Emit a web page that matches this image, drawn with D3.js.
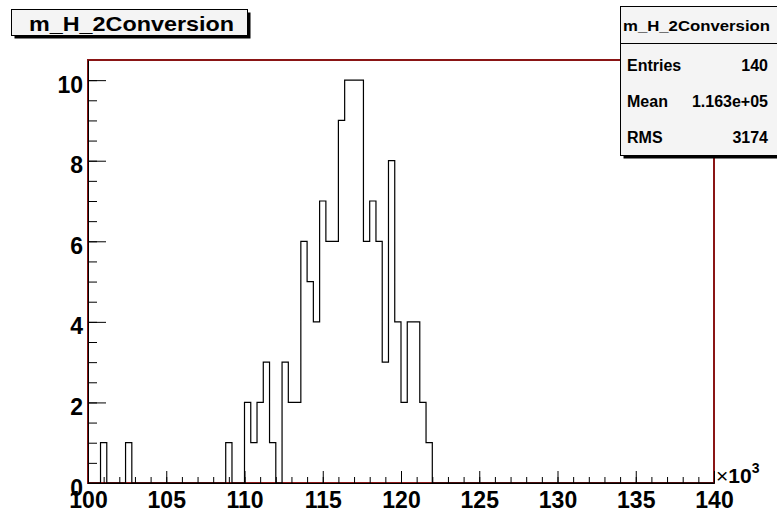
<!DOCTYPE html>
<html>
<head>
<meta charset="utf-8">
<script src="https://cdn.jsdelivr.net/npm/d3@7"></script>
<style>
  body { margin: 0; background: #fff; }
  text { font-family: "Liberation Sans", Arial, sans-serif; font-weight: bold; }
</style>
</head>
<body>
<svg id="hist" width="777" height="511"></svg>
<script>
// histogram m_H_2Conversion, 100 bins from 100e3 to 140e3 (x axis in units of 10^3)
const histName = "m_H_2Conversion";
const xMin = 100, xMax = 140, binWidth = 0.4;
const counts = [
  0, 0, 1, 0, 0, 0, 1, 0, 0, 0,
  0, 0, 0, 0, 0, 0, 0, 0, 0, 0,
  0, 0, 1, 0, 0, 2, 1, 2, 3, 1,
  0, 3, 2, 2, 6, 5, 4, 7, 6, 6,
  9, 10, 10, 10, 6, 7, 6, 3, 8, 4,
  2, 4, 4, 2, 1, 0, 0, 0, 0, 0,
  0, 0, 0, 0, 0, 0, 0, 0, 0, 0,
  0, 0, 0, 0, 0, 0, 0, 0, 0, 0,
  0, 0, 0, 0, 0, 0, 0, 0, 0, 0,
  0, 0, 0, 0, 0, 0, 0, 0, 0, 0
];
const xTicks = [100, 105, 110, 115, 120, 125, 130, 135, 140];
const yTicks = [0, 2, 4, 6, 8, 10];
const statLabels = ["Entries", "Mean", "RMS"];
const statValues = ["140", "1.163e+05", "3174"];

const svg = d3.select("#hist");

const frame = { left: 88, right: 714, top: 60, bottom: 483 };
const yMax = d3.max(counts) * 1.05;

const x = d3.scaleLinear().domain([xMin, xMax]).range([frame.left, frame.right]);
const y = d3.scaleLinear().domain([0, yMax]).range([frame.bottom, frame.top]);

// frame
svg.append("rect")
  .attr("x", frame.left).attr("y", frame.top)
  .attr("width", frame.right - frame.left)
  .attr("height", frame.bottom - frame.top)
  .attr("fill", "#fff")
  .attr("stroke", "#8a1515")
  .attr("stroke-width", 2);

// step outline of the histogram
const steps = [];
counts.forEach((c, i) => {
  steps.push([xMin + i * binWidth, c]);
  steps.push([xMin + (i + 1) * binWidth, c]);
});

svg.append("path")
  .datum(steps)
  .attr("fill", "none")
  .attr("stroke", "#000")
  .attr("stroke-width", 1.2)
  .attr("d", d3.line().x(d => x(d[0])).y(d => y(d[1])));

// x axis: minor ticks every 1, majors every 5
const xAxisG = svg.append("g").attr("transform", `translate(0,${frame.bottom})`);
xAxisG.append("g")
  .call(d3.axisBottom(x).tickValues(d3.range(xMin, xMax + 1, 1)).tickSizeInner(-6).tickSizeOuter(0).tickFormat(""))
  .call(g => g.select(".domain").remove());
xAxisG.append("g")
  .call(d3.axisBottom(x).tickValues(xTicks).tickSizeInner(-12).tickSizeOuter(0).tickPadding(9).tickFormat(d3.format("d")))
  .call(g => g.select(".domain").attr("stroke", "#000"))
  .call(g => g.attr("font-size", 23).attr("font-family", null))
  .call(g => g.selectAll("text").attr("dy", "16").attr("fill", "#000"));

// y axis: minor ticks every 0.5, majors every 2
const yAxisG = svg.append("g").attr("transform", `translate(${frame.left},0)`);
yAxisG.append("g")
  .call(d3.axisLeft(y).tickValues(d3.range(0, yMax, 0.5)).tickSizeInner(-9).tickSizeOuter(0).tickFormat(""))
  .call(g => g.select(".domain").remove());
yAxisG.append("g")
  .call(d3.axisLeft(y).tickValues(yTicks).tickSizeInner(-18).tickSizeOuter(0).tickPadding(5))
  .call(g => g.select(".domain").attr("stroke", "#000"))
  .call(g => g.attr("font-size", 23).attr("font-family", null))
  .call(g => g.selectAll("text").attr("dy", "12").attr("fill", "#000"));

// exponent label
const expo = svg.append("text")
  .attr("x", frame.right + 2)
  .attr("y", frame.bottom)
  .attr("font-size", 21);
expo.append("tspan").attr("font-size", 21).style("font-weight", "normal").text("\u00d7");
expo.append("tspan").attr("font-size", 21).text("10");
expo.append("tspan").attr("dy", -10).attr("font-size", 14).text("3");

// title box
const title = svg.append("g");
title.append("rect")
  .attr("x", 14.5).attr("y", 12.5).attr("width", 236).attr("height", 26)
  .attr("fill", "#000");
title.append("rect")
  .attr("x", 11.5).attr("y", 9.5).attr("width", 236).attr("height", 26)
  .attr("fill", "#f4f4f4").attr("stroke", "#000");
title.append("text")
  .attr("x", 29).attr("y", 31)
  .attr("textLength", 205).attr("lengthAdjust", "spacingAndGlyphs")
  .attr("font-size", 21)
  .text(histName);

// statistics box
const stats = svg.append("g");
const sb = { x: 620.5, y: 6.5, w: 160, h: 149 };
stats.append("rect")
  .attr("x", sb.x + 3).attr("y", sb.y + 3).attr("width", sb.w).attr("height", sb.h)
  .attr("fill", "#000");
stats.append("rect")
  .attr("x", sb.x).attr("y", sb.y).attr("width", sb.w).attr("height", sb.h)
  .attr("fill", "#f4f4f4").attr("stroke", "#000");
stats.append("line")
  .attr("x1", sb.x).attr("x2", sb.x + sb.w)
  .attr("y1", 43.5).attr("y2", 43.5)
  .attr("stroke", "#000");
stats.append("text")
  .attr("x", 623).attr("y", 31)
  .attr("textLength", 147).attr("lengthAdjust", "spacingAndGlyphs")
  .attr("font-size", 15)
  .text(histName);

const rowY = d3.scalePoint().domain(statLabels).range([71, 143]);
stats.selectAll(".stat-label")
  .data(statLabels)
  .join("text")
  .attr("class", "stat-label")
  .attr("x", 627).attr("y", d => rowY(d))
  .attr("font-size", 16)
  .text(d => d);
stats.selectAll(".stat-value")
  .data(statValues)
  .join("text")
  .attr("class", "stat-value")
  .attr("x", 768).attr("y", (d, i) => rowY(statLabels[i]))
  .attr("text-anchor", "end")
  .attr("font-size", 16)
  .text(d => d);
</script>
</body>
</html>
